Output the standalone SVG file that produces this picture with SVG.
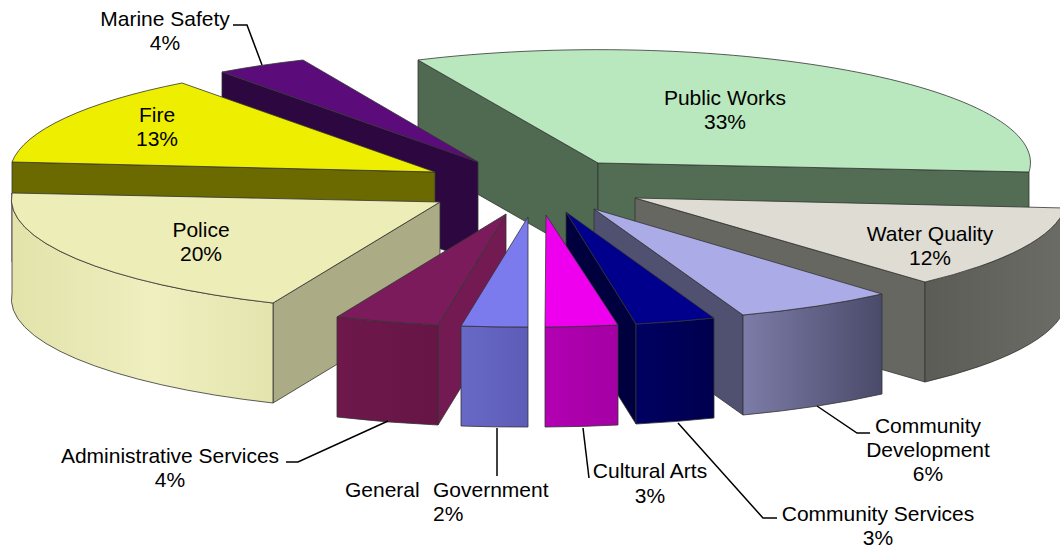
<svg xmlns="http://www.w3.org/2000/svg" width="1060" height="550" viewBox="0 0 1060 550">
<defs>
<style>
.f{stroke:#333;stroke-width:0.8;stroke-linejoin:round}
.t{font-family:"Liberation Sans",Arial,sans-serif;font-size:21px;fill:#000}
.c{text-anchor:middle}
.ln{fill:none;stroke:#000;stroke-width:1.5}
</style>
<linearGradient id="gPol" x1="0" y1="0" x2="1" y2="0">
<stop offset="0" stop-color="#E2E2AA"/><stop offset="0.55" stop-color="#EFEFC0"/><stop offset="1" stop-color="#E4E4AE"/>
</linearGradient>
<linearGradient id="gWQ" x1="0" y1="0" x2="1" y2="0">
<stop offset="0" stop-color="#5C5C57"/><stop offset="1" stop-color="#6C6C66"/>
</linearGradient>
<linearGradient id="gCD" x1="0" y1="0" x2="1" y2="0">
<stop offset="0" stop-color="#7C7CA8"/><stop offset="1" stop-color="#4A4A6A"/>
</linearGradient>
<linearGradient id="gCS" x1="0" y1="0" x2="1" y2="0">
<stop offset="0" stop-color="#000062"/><stop offset="1" stop-color="#00004E"/>
</linearGradient>
<linearGradient id="gCA" x1="0" y1="0" x2="1" y2="0">
<stop offset="0" stop-color="#B200B2"/><stop offset="1" stop-color="#A400A4"/>
</linearGradient>
<linearGradient id="gGG" x1="0" y1="0" x2="1" y2="0">
<stop offset="0" stop-color="#6868C6"/><stop offset="1" stop-color="#5D5DB8"/>
</linearGradient>
<linearGradient id="gAS" x1="0" y1="0" x2="1" y2="0">
<stop offset="0" stop-color="#6E184C"/><stop offset="1" stop-color="#661545"/>
</linearGradient>
</defs>
<rect width="1060" height="550" fill="#fff"/>

<g id="public-works">
<path class="f" d="M418,60 L598,163 L598,263 L418,160 Z" fill="#4F6A51"/>
<path class="f" d="M598,163 L1029,172 L1029,272 L598,263 Z" fill="#526D54"/>
<path class="f" d="M598,163 L1029,172 A432 113 0 0 0 418,60 Z" fill="#B9E8BE"/>
<text class="t c" x="725" y="105">Public Works</text>
<text class="t c" x="725" y="129">33%</text>
</g>

<g id="marine-safety">
<path class="f" d="M222,72 L478,162 L478,262 L222,172 Z" fill="#2D073F"/>
<path class="f" d="M478,162 L303,60 A432 113 0 0 0 222,72 Z" fill="#5B0B7A"/>
<text class="t c" x="165" y="26">Marine Safety</text>
<text class="t c" x="165" y="50">4%</text>
</g>

<g id="fire">
<path class="f" d="M12,162 L435,172 L435,272 L12,262 Z" fill="#6B6A00"/>
<path class="f" d="M435,172 L182,83 A432 113 0 0 0 12,162 Z" fill="#EEEE00"/>
<text class="t c" x="157" y="122">Fire</text>
<text class="t c" x="157" y="146">13%</text>
</g>

<g id="police">
<path class="f" d="M273,303 L440,202 L440,302 L273,403 Z" fill="#ABAB85"/>
<path class="f" d="M12,193 A432 113 0 0 0 273,303 L273,403 A432 113 0 0 1 12,293 Z" fill="url(#gPol)"/>
<path class="f" d="M440,202 L12,193 A432 113 0 0 0 273,303 Z" fill="#EDEDB8"/>
<text class="t c" x="201" y="237">Police</text>
<text class="t c" x="201" y="261">20%</text>
</g>

<g id="water-quality">
<path class="f" d="M635,198 L925,282 L925,382 L635,298 Z" fill="#676762"/>
<path class="f" d="M925,282 A432 113 0 0 0 1065,208 L1065,308 A432 113 0 0 1 925,382 Z" fill="url(#gWQ)"/>
<path class="f" d="M635,198 L925,282 A432 113 0 0 0 1065,208 Z" fill="#DEDCD3"/>
<text class="t c" x="930" y="241">Water Quality</text>
<text class="t c" x="930" y="265">12%</text>
</g>

<g id="community-development">
<path class="f" d="M594,209 L743,315 L743,415 L594,309 Z" fill="#505070"/>
<path class="f" d="M743,315 A432 113 0 0 0 882,294 L882,394 A432 113 0 0 1 743,415 Z" fill="url(#gCD)"/>
<path class="f" d="M594,209 L743,315 A432 113 0 0 0 882,294 Z" fill="#ABABE8"/>
<text class="t c" x="928" y="433">Community</text>
<text class="t c" x="928" y="457">Development</text>
<text class="t c" x="928" y="481">6%</text>
</g>

<g id="community-services">
<path class="f" d="M566,212 L636,324 L636,424 L566,312 Z" fill="#00003E"/>
<path class="f" d="M636,324 A432 113 0 0 0 714,318 L714,418 A432 113 0 0 1 636,424 Z" fill="url(#gCS)"/>
<path class="f" d="M566,212 L636,324 A432 113 0 0 0 714,318 Z" fill="#00008C"/>
<text class="t c" x="878" y="521">Community Services</text>
<text class="t c" x="878" y="545">3%</text>
</g>

<g id="administrative-services">
<path class="f" d="M438,325 L506,214 L506,314 L438,425 Z" fill="#731A53"/>
<path class="f" d="M337,317 A432 113 0 0 0 438,325 L438,425 A432 113 0 0 1 337,417 Z" fill="url(#gAS)"/>
<path class="f" d="M506,214 L337,317 A432 113 0 0 0 438,325 Z" fill="#7B1B5C"/>
<text class="t c" x="170" y="463">Administrative Services</text>
<text class="t c" x="170" y="487">4%</text>
</g>

<g id="general-government">
<path class="f" d="M461,326 A432 113 0 0 0 528,327 L528,427 A432 113 0 0 1 461,426 Z" fill="url(#gGG)"/>
<path class="f" d="M528,217 L461,326 A432 113 0 0 0 528,327 Z" fill="#7B7BEE"/>
<text class="t" x="345" y="497">General</text>
<text class="t" x="433" y="497">Government</text>
<text class="t" x="433" y="521">2%</text>
</g>

<g id="cultural-arts">
<path class="f" d="M545,327 A432 113 0 0 0 618,325 L618,425 A432 113 0 0 1 545,427 Z" fill="url(#gCA)"/>
<path class="f" d="M546,215 L545,327 A432 113 0 0 0 618,325 Z" fill="#EE00EE"/>
<text class="t c" x="650" y="478">Cultural Arts</text>
<text class="t c" x="650" y="503">3%</text>
</g>

<g id="connectors">
<path class="ln" d="M233,25 H247 L262,65"/>
<path class="ln" d="M286,462 H298 L388,421"/>
<path class="ln" d="M497,428 V476"/>
<path class="ln" d="M583,428 L589,478"/>
<path class="ln" d="M678,423 L763,518 H777"/>
<path class="ln" d="M817,406 L857,433 H870"/>
</g>
</svg>
